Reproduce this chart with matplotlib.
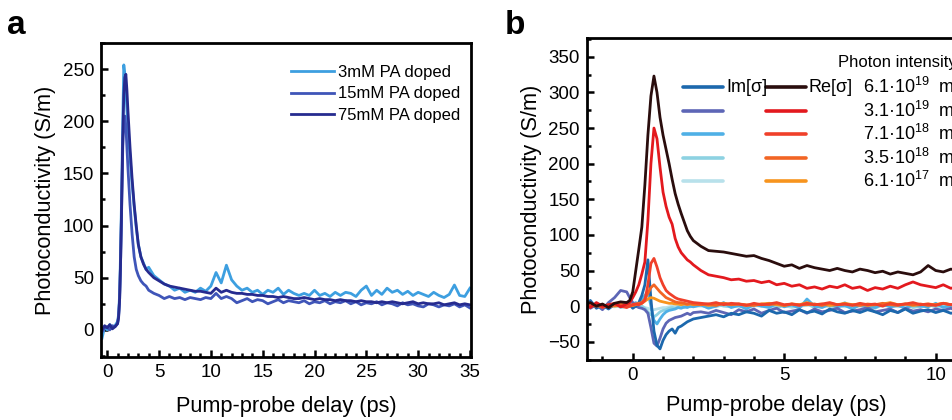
import matplotlib
matplotlib.use("Agg")
import matplotlib.pyplot as plt
import numpy as np
from matplotlib.lines import Line2D
from matplotlib.ticker import MultipleLocator

plt.rcParams['font.family'] = ['Liberation Sans', 'DejaVu Sans']
plt.rcParams['mathtext.default'] = 'regular'

# ---------------- panel a data ----------------
t_a = [-0.5, -0.25, 0, 0.25, 0.5, 0.75, 1.0, 1.1, 1.2, 1.3, 1.4, 1.5, 1.6, 1.7,
       1.8, 1.9, 2.0, 2.2, 2.4, 2.6, 2.8, 3.0, 3.25, 3.5, 3.75, 4.0, 4.5, 5.0,
       5.5, 6.0, 6.5, 7.0, 7.5, 8.0, 8.5, 9.0, 9.5, 10.0, 10.5, 11.0, 11.5, 12.0,
       12.5, 13.0, 13.5, 14.0, 14.5, 15.0, 15.5, 16.0, 16.5, 17.0, 17.5, 18.0,
       18.5, 19.0, 19.5, 20.0, 20.5, 21.0, 21.5, 22.0, 22.5, 23.0, 23.5, 24.0,
       24.5, 25.0, 25.5, 26.0, 26.5, 27.0, 27.5, 28.0, 28.5, 29.0, 29.5, 30.0,
       30.5, 31.0, 31.5, 32.0, 32.5, 33.0, 33.5, 34.0, 34.5, 35.0]

pa_3mM = [-8, 3, 0, 5, 2, 4, 8, 15, 35, 80, 135, 200, 254, 245, 230, 210, 195,
          165, 140, 118, 98, 82, 70, 64, 58, 60, 52, 48,
          44, 42, 38, 40, 36, 38, 36, 40, 37, 42, 55, 45, 62, 48, 42, 38, 40, 36,
          38, 34, 38, 36, 40, 34, 38, 35, 33, 35, 33, 38, 33, 35, 32, 36, 33, 36,
          35, 32, 38, 42, 33, 38, 34, 40, 36, 38, 34, 37, 33, 36, 34, 32, 36, 33,
          31, 34, 43, 33, 32, 40]
pa_15mM = [-2, 2, 3, 0, 4, 3, 6, 13, 30, 70, 120, 175, 200, 205, 195, 175, 155,
           120, 92, 70, 58, 52, 47, 44, 42, 38, 35, 33,
           30, 32, 30, 31, 29, 31, 30, 29, 31, 30, 35, 30, 32, 30, 26, 28, 30, 27,
           29, 28, 25, 27, 29, 26, 28, 27, 26, 28, 25, 27, 26, 28, 25, 27, 26, 28,
           25, 27, 24, 26, 25, 27, 24, 26, 25, 23, 26, 24, 25, 23, 22, 25, 24, 22,
           24, 23, 25, 22, 24, 21]
pa_75mM = [0, 4, 2, 5, 1, 3, 6, 12, 30, 70, 125, 185, 225, 242, 245, 230, 210,
           175, 145, 120, 100, 82, 70, 63, 58, 55, 50, 47,
           44, 42, 41, 40, 39, 38, 37, 37, 36, 35, 40, 36, 38, 36, 35, 35, 34, 34,
           33, 33, 32, 32, 31, 32, 31, 30, 30, 31, 30, 29, 30, 29, 29, 28, 29, 28,
           28, 27, 28, 27, 27, 26, 27, 26, 27, 26, 25, 26, 27, 25, 26, 25, 25, 26,
           24, 25, 26, 24, 25, 24]
labels_a = ["3mM PA doped", "15mM PA doped", "75mM PA doped"]
colors_a = ["#3d9fe0", "#3f55b8", "#262b8f"]

# ---------------- panel b data ----------------
t_b = [-1.6, -1.4, -1.2, -1.0, -0.8, -0.6, -0.4, -0.2,
       -0.1, 0.0, 0.1, 0.2, 0.3, 0.4, 0.5, 0.6, 0.7, 0.8, 0.9, 1.0, 1.1, 1.2,
       1.3, 1.4, 1.5, 1.6, 1.7, 1.8, 1.9, 2.0,
       2.25, 2.5, 2.75, 3.0, 3.25, 3.5, 3.75, 4.0, 4.25, 4.5, 4.75, 5.0, 5.25,
       5.5, 5.75, 6.0, 6.25, 6.5, 6.75, 7.0, 7.25, 7.5, 7.75, 8.0, 8.25, 8.5,
       8.75, 9.0, 9.25, 9.5, 9.75, 10.0, 10.25, 10.5, 10.75]

intensities = ["6.1·10$^{19}$  m$^{-2}$", "3.1·10$^{19}$  m$^{-2}$",
               "7.1·10$^{18}$  m$^{-2}$", "3.5·10$^{18}$  m$^{-2}$",
               "6.1·10$^{17}$  m$^{-2}$"]

re_vals = [
    [2, 5, 0, 3, -2, 4, 6, 5,
     8, 20, 50, 80, 111, 170, 240, 295, 323, 300, 265, 240, 220, 200, 178, 158,
     143, 130, 118, 106, 98, 92,
     84, 78, 77, 76, 74, 72, 70, 71, 67, 64, 60, 56, 58, 53, 57, 54, 52, 50, 53,
     50, 48, 52, 50, 47, 49, 45, 48, 46, 44, 48, 57, 50, 48, 52, 50],
    [3, -2, 5, 0, 2, 4, -1, 3,
     5, 12, 20, 30, 45, 62, 120, 200, 250, 235, 195, 160, 140, 125, 115, 95, 83,
     75, 70, 65, 62, 58,
     50, 44, 42, 40, 37, 38, 35, 36, 33, 35, 30, 32, 28, 30, 25, 27, 24, 28, 26,
     30, 25, 27, 22, 26, 24, 28, 25, 30, 34, 30, 28, 26, 30, 25, 28],
    [2, 0, 3, -2, 1, 3, 0, -2,
     0, 2, 3, 2, 4, 8, 30, 60, 67, 55, 40, 30, 22, 18, 15, 12, 10, 9, 8, 7, 6, 5,
     4, 3, 5, 2, 4, 3, 1, 4, 2, 3, 5, 2, 3, 1, 4, 2, 3, 5, 2, 3, 1, 4, 2, 3, 0,
     4, 2, 3, 5, 2, 3, 1, 4, 2, 3],
    [-2, 1, 0, 2, -1, 1, 3, 0,
     1, 2, 3, 4, 5, 10, 18, 26, 30, 25, 20, 16, 12, 10, 8, 6, 5, 5, 4, 3, 4, 3,
     2, 3, 1, 4, 2, 3, 2, 1, 3, 2, 4, 1, 3, 2, 2, 3, 1, 4, 2, 3, 2, 1, 3, 2, 4,
     2, 1, 3, 2, 3, 1, 2, 4, 2, 3],
    [0, 2, 1, -1, 2, 0, 1, 3,
     0, 1, 2, 3, 4, 7, 10, 12, 11, 9, 7, 6, 5, 4, 4, 3, 3, 2, 3, 2, 3, 2,
     3, 1, 2, 4, 2, 3, 1, 2, 3, 4, 2, 1, 3, 2, 5, 2, 3, 1, 2, 4, 2, 3, 1, 2, 3,
     5, 2, 3, 1, 2, 3, 2, 4, 2, 3],
]
im_vals = [
    [-5, 8, -3, 2, -4, 3, 0, 5,
     2, -3, 0, 5, 15, 30, 65, 10, -35, -55, -60, -48, -40, -35, -32, -38, -30,
     -28, -25, -22, -20, -18,
     -16, -14, -12, -15, -10, -12, -8, -10, -14, -6, -10, -8, -12, -5, -9, -7,
     -11, -4, -8, -10, -6, -9, -5, -8, -12, -6, -9, -4, -10, -7, -5, -9, -6,
     -10, -8],
    [8, -3, 2, -5, 5, 12, 22, 20,
     12, 5, 0, -2, -3, -5, -10, -30, -52, -56, -45, -32, -24, -20, -18, -16,
     -15, -14, -12, -10, -12, -9,
     -8, -10, -6, -9, -12, -5, -8, -4, -10, -6, -3, -9, -7, -5, -10, -4, -8,
     -6, -3, -9, -7, -5, -2, -8, -6, -4, -9, -3, -7, -5, -8, -4, -6, -3, -7],
    [3, -2, 4, 0, -3, 2, 5, -1,
     0, 3, 5, 2, 8, 15, 20, 0, -20, -25, -18, -12, -8, -6, -5, -4, -2, -3, -1,
     -2, 0, -1,
     2, -3, 0, 5, -2, 1, -4, 3, 0, -2, 4, -1, 2, -3, 10, 0, -2, 3, -1, 1, -4,
     2, 0, -2, 3, -1, 1, -3, 2, 0, -1, 4, -2, 1, -3],
    [-1, 2, 0, -3, 1, 3, -2, 0,
     1, 0, 2, -1, 0, -3, -8, -12, -15, -12, -8, -6, -5, -3, -2, -3, -1, 0, -2,
     1, -1, 0,
     1, -2, 3, 0, -1, 2, -3, 1, 0, 4, -2, 1, 0, -1, 3, -2, 2, 0, -1, 5, -2, 1,
     0, -3, 2, -1, 1, 3, -2, 0, 2, -1, 1, -2, 0],
    [0, 1, -1, 2, 0, -1, 1, 0,
     0, 1, 0, -1, 0, -2, -3, -5, -5, -4, -3, -2, -2, -1, 0, -1, 0, 1, -1, 0, 1,
     0,
     0, 1, -1, 2, 0, -1, 1, 0, 2, -1, 0, 1, -2, 0, 1, 3, -1, 0, 2, -1, 1, 0,
     -2, 1, 0, 2, -1, 1, 0, -1, 2, 0, 1, -1, 0],
]
re_colors = ["#2a0d0d", "#e3191e", "#f0402a", "#f26524", "#f7941e"]
im_colors = ["#1c68ad", "#5d66b6", "#4fb0e6", "#8dd2e2", "#b8e1eb"]

# ---------------- figure ----------------
W, H = 953, 420
fig = plt.figure(figsize=(W / 100, H / 100), dpi=100)


def fx(px):
    return px / W


def fy(py):
    return 1 - py / H


def style_axes(ax):
    for s in ax.spines.values():
        s.set_linewidth(2.0)
    ax.tick_params(which="both", direction="in", top=False, right=False,
                   labelsize=13.5, width=1.8)
    ax.tick_params(which="major", length=5, pad=5)
    ax.tick_params(which="minor", length=3)


# panel a
ax1 = fig.add_axes([fx(101), fy(357), fx(370), (357 - 43) / H])
for y, c, lab in zip([pa_3mM, pa_15mM, pa_75mM], colors_a, labels_a):
    ax1.plot(t_a, y, color=c, lw=2.0, label=lab)
ax1.set_xlim(-0.6, 35.1)
ax1.set_ylim(-26, 275)
ax1.xaxis.set_major_locator(MultipleLocator(5))
ax1.xaxis.set_minor_locator(MultipleLocator(1))
ax1.yaxis.set_major_locator(MultipleLocator(50))
ax1.yaxis.set_minor_locator(MultipleLocator(25))
style_axes(ax1)
ax1.set_xlabel("Pump-probe delay (ps)", fontsize=15.7, labelpad=11)
ax1.set_ylabel("Photoconductivity (S/m)", fontsize=15.7, labelpad=5)
ax1.legend(loc="upper right", bbox_to_anchor=(0.989, 0.951), frameon=False,
           fontsize=12, handlelength=2.6, handletextpad=0.25,
           labelspacing=0.38, borderaxespad=0)

# panel b
ax2 = fig.add_axes([fx(586.7), fy(360), fx(966 - 586.7), (360 - 38.3) / H])
for y, c in zip(im_vals[::-1], im_colors[::-1]):
    ax2.plot(t_b, y, color=c, lw=2.0)
for y, c in zip(re_vals[::-1], re_colors[::-1]):
    ax2.plot(t_b, y, color=c, lw=2.0)
ax2.set_xlim(-1.52, 11.0)
ax2.set_ylim(-75.6, 376)
ax2.xaxis.set_major_locator(MultipleLocator(5))
ax2.xaxis.set_minor_locator(MultipleLocator(1))
ax2.yaxis.set_major_locator(MultipleLocator(50))
ax2.yaxis.set_minor_locator(MultipleLocator(25))
style_axes(ax2)
ax2.set_xlabel("Pump-probe delay (ps)", fontsize=15.7, labelpad=8)
ax2.set_ylabel("Photoconductivity (S/m)", fontsize=15.7, labelpad=4)

# hand-built legend for panel b
fig.text(fx(838), fy(62), "Photon intensity", fontsize=12, va="center")
rows_y = [87, 111, 134, 158, 181]
for i, yy in enumerate(rows_y):
    fig.add_artist(Line2D([fx(683), fx(723)], [fy(yy), fy(yy)],
                          color=im_colors[i], lw=2.6, solid_capstyle="round"))
    fig.add_artist(Line2D([fx(766), fx(806)], [fy(yy), fy(yy)],
                          color=re_colors[i], lw=2.6, solid_capstyle="round"))
    fig.text(fx(863), fy(yy), intensities[i], fontsize=13, va="center")
fig.text(fx(726), fy(87), "Im[σ]", fontsize=13, va="center")
fig.text(fx(809), fy(87), "Re[σ]", fontsize=13, va="center")

fig.text(fx(7), fy(25), "a", fontsize=24, fontweight="bold", va="center")
fig.text(fx(505), fy(25), "b", fontsize=24, fontweight="bold", va="center")

fig.savefig("out.png", dpi=100)
